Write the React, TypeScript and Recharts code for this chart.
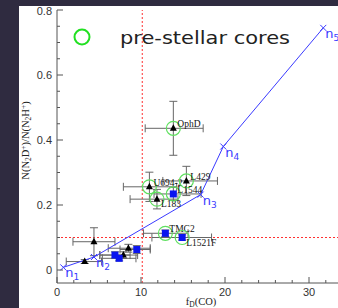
import {
  ErrorBar,
  Legend,
  ReferenceLine,
  Scatter,
  ScatterChart,
  XAxis,
  YAxis,
} from "recharts";

// model track n1..n5
const modelX = [0.75, 4.4, 17.1, 19.8, 31.7];
const modelY = [0.008, 0.04, 0.232, 0.38, 0.745];
const modelIdx = ["1", "2", "3", "4", "5"];

// black triangles
const triNames = ["", "", "", "", "U694-2", "L183", "OphD", "L429"];
const triX = [3.3, 4.4, 7.9, 8.5, 11.0, 11.9, 13.85, 15.4];
const triY = [0.026, 0.087, 0.046, 0.067, 0.256, 0.218, 0.436, 0.274];
const triXLo = [2.2, 2.5, 2.8, 2.4, 3.1, 3.2, 3.35, 2.8];
const triXHi = [2.0, 2.5, 1.7, 2.6, 3.25, 2.5, 3.55, 3.7];
const triYErr = [0.006, 0.043, 0.01, 0.012, 0.045, 0.03, 0.083, 0.045];

// blue squares
const sqNames = ["", "", "", "TMC2", "L1544", "L1521F"];
const sqX = [6.9, 7.4, 9.5, 12.9, 13.85, 14.9];
const sqY = [0.046, 0.036, 0.063, 0.113, 0.234, 0.1];
const sqXLo = [1.8, 2.0, 2.0, 2.6, 2.3, 3.6];
const sqXHi = [1.8, 2.0, 1.6, 2.7, 3.3, 3.5];
const sqYErr = [0.01, 0.008, 0.012, 0.01, 0.02, 0.008];

const xTicks = [0, 2, 4, 6, 8, 10, 12, 14, 16, 18, 20, 22, 24, 26, 28, 30, 32, 34];
const yTicks = [0, 0.05, 0.1, 0.15, 0.2, 0.25, 0.3, 0.35, 0.4, 0.45, 0.5, 0.55, 0.6, 0.65, 0.7, 0.75, 0.8];
const redX = 10.15;
const redY = 0.1;

const BLUE = "#3a3aff";
const AXIS = "#555";
const RED = "#ff3030";
const LABEL_BELOW = new Set(["L183", "L1521F"]);

const modelData = modelX.map((x, i) => ({ x, y: modelY[i], idx: modelIdx[i] }));
const triData = triX.map((x, i) => ({
  name: triNames[i],
  x,
  y: triY[i],
  xErr: [triXLo[i], triXHi[i]],
  yErr: triYErr[i],
}));
const sqData = sqX.map((x, i) => ({
  name: sqNames[i],
  x,
  y: sqY[i],
  xErr: [sqXLo[i], sqXHi[i]],
  yErr: sqYErr[i],
}));
const coreData = [...triData, ...sqData].filter((d) => d.name);

function BottomTick({ x, y, payload }: any) {
  const v = payload.value;
  const major = v % 10 === 0;
  return (
    <g>
      <line x1={x} x2={x} y1={y} y2={y - (major ? 6 : 3)} stroke={AXIS} />
      {major && (
        <text x={x} y={y + 13} textAnchor="middle" fontSize={11} fill="#333" fontFamily="Liberation Sans">
          {v}
        </text>
      )}
    </g>
  );
}

function TopTick({ x, y, payload }: any) {
  const major = payload.value % 10 === 0;
  return <line x1={x} x2={x} y1={y} y2={y + (major ? 6 : 3)} stroke={AXIS} />;
}

function LeftTick({ x, y, payload }: any) {
  const v = payload.value;
  const major = Math.abs(v * 5 - Math.round(v * 5)) < 1e-6;
  // the top label sits right at the panel edge
  const ty = v >= 0.8 ? y + 1.5 : y;
  return (
    <g>
      <line x1={x} x2={x + (major ? 6 : 3)} y1={y} y2={y} stroke={AXIS} />
      {major && (
        <text x={x - 5} y={ty} dy="0.35em" textAnchor="end" fontSize={11} fill="#333" fontFamily="Liberation Sans">
          {v === 0 ? "0" : v.toFixed(1)}
        </text>
      )}
    </g>
  );
}

function ModelMark({ cx, cy, payload }: any) {
  return (
    <g>
      <line x1={cx - 3} y1={cy - 3} x2={cx + 3} y2={cy + 3} stroke={BLUE} />
      <line x1={cx - 3} y1={cy + 3} x2={cx + 3} y2={cy - 3} stroke={BLUE} />
      <text x={cx + 2} y={cy + 10} fill={BLUE} fontSize={13} fontFamily="DejaVu Sans">
        n
        <tspan fontSize={9} dy={3}>
          {payload.idx}
        </tspan>
      </text>
    </g>
  );
}

function Triangle({ cx, cy }: any) {
  return <polygon points={`${cx},${cy - 4} ${cx - 3.5},${cy + 2.5} ${cx + 3.5},${cy + 2.5}`} fill="#000" />;
}

function Square({ cx, cy }: any) {
  return <rect x={cx - 3.5} y={cy - 3.5} width={7} height={7} fill="#0a14f0" />;
}

function CoreCircle({ cx, cy, payload }: any) {
  const below = LABEL_BELOW.has(payload.name);
  return (
    <g>
      <circle cx={cx} cy={cy} r={7} fill="none" stroke="#5fe05f" strokeWidth={1.2} />
      <text
        x={cx + 4}
        y={below ? cy + 8 : cy - 1}
        fontSize={9.5}
        fill="#111"
        fontFamily="Liberation Serif"
      >
        {payload.name}
      </text>
    </g>
  );
}

function LegendBox() {
  return (
    <svg width={260} height={32}>
      <circle cx={13} cy={15} r={7.5} fill="none" stroke="#22e022" strokeWidth={2} />
      <text x={51} y={22} fontSize={18} fill="#222" fontFamily="DejaVu Sans" textLength={170} lengthAdjust="spacingAndGlyphs">
        pre-stellar cores
      </text>
    </svg>
  );
}

export default function App() {
  return (
    <div
      style={{
        position: "fixed",
        left: 0,
        top: 0,
        width: 338,
        height: 308,
        overflow: "hidden",
        background: "#2f2b40",
      }}
    >
      <div style={{ position: "absolute", left: 19, top: 6, width: 340, height: 310, background: "#fff" }}>
        <ScatterChart width={332} height={302} margin={{ top: 4, right: 0, bottom: 0, left: 0 }}>
          <XAxis
            dataKey="x"
            type="number"
            domain={[0, 35]}
            ticks={xTicks}
            interval={0}
            height={25}
            tickSize={0}
            tickMargin={0}
            tickLine={false}
            tick={<BottomTick />}
            stroke={AXIS}
            label={{
              content: ({ viewBox }: any) => (
                <text
                  x={viewBox.x + viewBox.width / 2 - 3}
                  y={viewBox.y + 22}
                  textAnchor="middle"
                  fontSize={10.5}
                  fill="#222"
                  fontFamily="Liberation Serif"
                >
                  f
                  <tspan fontSize={7.5} dy={1.5}>
                    D
                  </tspan>
                  <tspan dy={-1.5}>(CO)</tspan>
                </text>
              ),
            }}
          />
          <XAxis
            xAxisId="top"
            orientation="top"
            dataKey="x"
            type="number"
            domain={[0, 35]}
            ticks={xTicks}
            interval={0}
            height={0}
            tickSize={0}
            tickMargin={0}
            tickLine={false}
            tick={<TopTick />}
            stroke={AXIS}
          />
          <YAxis
            dataKey="y"
            type="number"
            domain={[-0.04, 0.8]}
            ticks={yTicks}
            interval={0}
            width={38}
            tickSize={0}
            tickMargin={0}
            tickLine={false}
            tick={<LeftTick />}
            stroke={AXIS}
            label={{
              content: ({ viewBox }: any) => {
                const lx = viewBox.x + 6;
                const ly = viewBox.y + viewBox.height / 2 - 6;
                return (
                  <text
                    x={lx}
                    y={ly}
                    transform={`rotate(-90 ${lx} ${ly})`}
                    textAnchor="middle"
                    dy="0.35em"
                    fontSize={10.5}
                    fill="#222"
                    fontFamily="Liberation Serif"
                  >
                    N(N
                    <tspan fontSize={7.5} dy={2}>2</tspan>
                    <tspan dy={-2}>D</tspan>
                    <tspan fontSize={7.5} dy={-3}>+</tspan>
                    <tspan dy={3}>)/N(N</tspan>
                    <tspan fontSize={7.5} dy={2}>2</tspan>
                    <tspan dy={-2}>H</tspan>
                    <tspan fontSize={7.5} dy={-3}>+</tspan>
                    <tspan dy={3}>)</tspan>
                  </text>
                );
              },
            }}
          />
          <ReferenceLine x={redX} stroke={RED} strokeDasharray="2 2" />
          <ReferenceLine y={redY} stroke={RED} strokeWidth={1.2} strokeDasharray="2 2" />
          <Legend
            layout="horizontal"
            verticalAlign="middle"
            align="center"
            wrapperStyle={{ top: 16, left: 50, width: 260 }}
            content={() => <LegendBox />}
          />
          <Scatter
            name="model"
            data={modelData}
            line={{ stroke: BLUE, strokeWidth: 1 }}
            lineType="joint"
            shape={<ModelMark />}
            isAnimationActive={false}
            legendType="none"
          />
          <Scatter name="cores" data={coreData} shape={<CoreCircle />} isAnimationActive={false} />
          <Scatter name="triangles" data={triData} shape={<Triangle />} isAnimationActive={false}>
            <ErrorBar dataKey="xErr" direction="x" width={4} stroke="#666" strokeWidth={1} isAnimationActive={false} />
            <ErrorBar dataKey="yErr" direction="y" width={4} stroke="#666" strokeWidth={1} isAnimationActive={false} />
          </Scatter>
          <Scatter name="squares" data={sqData} shape={<Square />} isAnimationActive={false}>
            <ErrorBar dataKey="xErr" direction="x" width={4} stroke="#666" strokeWidth={1} isAnimationActive={false} />
            <ErrorBar dataKey="yErr" direction="y" width={4} stroke="#666" strokeWidth={1} isAnimationActive={false} />
          </Scatter>
        </ScatterChart>
      </div>
    </div>
  );
}
